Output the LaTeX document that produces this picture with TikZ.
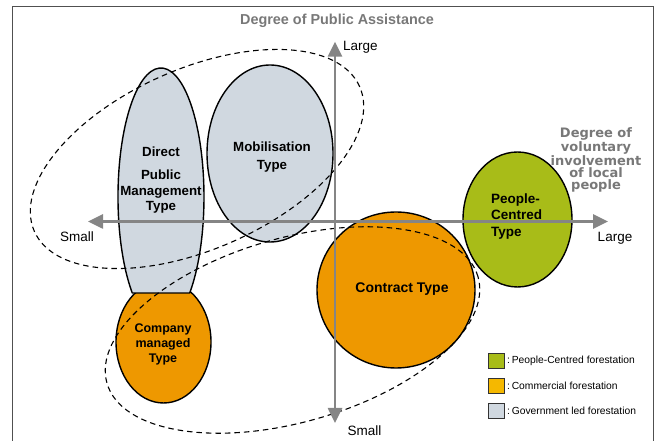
\documentclass[tikz,border=0pt]{standalone}
\usepackage{fontspec}
\setmainfont{Liberation Sans}
\newfontfamily\widefont{DejaVu Sans}
\usetikzlibrary{shapes.geometric,arrows.meta}

\definecolor{govgrey}{HTML}{D0D8E0}
\definecolor{comorange}{HTML}{EE9800}
\definecolor{legorange}{HTML}{F5B800}
\definecolor{peoplegreen}{HTML}{A8BC18}
\definecolor{axisgrey}{HTML}{858585}
\definecolor{titlegrey}{HTML}{787878}
\definecolor{framegrey}{HTML}{505050}

\begin{document}
\begin{tikzpicture}[x=1pt,y=1pt,
  outline/.style={draw=black, line width=1.4pt, line join=round},
  blob/.style={outline, ellipse, inner sep=0pt},
  group/.style={ellipse, draw=black, line width=1.1pt, dash pattern=on 5.5pt off 4pt, inner sep=0pt},
  axis/.style={draw=axisgrey, line width=2.6pt,
    {Triangle[length=15pt,width=14pt]}-{Triangle[length=15pt,width=14pt]}},
  typelabel/.style={font=\bfseries\fontsize{13.3}{15.5}\selectfont, align=center, inner sep=0pt},
  axlabel/.style={font=\fontsize{13.5}{15}\selectfont, inner sep=0pt},
  keybox/.style={draw=black!80, line width=1pt, minimum width=16pt, minimum height=15pt, inner sep=0pt},
  keytext/.style={font=\fontsize{10.3}{12}\selectfont, anchor=west, inner sep=0pt},
]
\useasboundingbox (0,0) rectangle (658,441);

% frame
\draw[framegrey, line width=1pt] (12,0) -- (12,434) -- (653,434) -- (653,0);

% forestation types
\node[blob, fill=comorange, minimum width=95pt, minimum height=122pt] (company) at (163.5,99) {};
\draw[outline, fill=govgrey] (189.7,148)
  arc[start angle=-48.1, end angle=228.1, x radius=43pt, y radius=129pt] -- cycle;
\node[blob, fill=govgrey, minimum width=126pt, minimum height=177pt] (mobil) at (270,287.5) {};
\node[blob, fill=comorange, minimum width=158pt, minimum height=156pt] (contract) at (396,151) {};
\node[blob, fill=peoplegreen, minimum width=109pt, minimum height=135pt] (people) at (517.5,221.5) {};

% groupings
\node[group, minimum width=356pt, minimum height=180pt, rotate=24] (pubgroup) at (197,282) {};
\node[group, minimum width=386pt, minimum height=184pt, rotate=16] (comgroup) at (292.5,111) {};

% axes
\coordinate (hL) at (88,219.5);
\coordinate (hR) at (608,219.5);
\coordinate (vT) at (335,399.3);
\coordinate (vB) at (335,18);
\draw[axis] (hL) -- (hR);
\draw[axis] (vB) -- (vT);

% axis labels
\node[axlabel, anchor=west] (vlarge) at (343,394) {Large};
\node[axlabel] (vsmall) at (364.5,10) {Small};
\node[axlabel] (hsmall) at (77,204) {Small};
\node[axlabel] (hlarge) at (615,203) {Large};

\node[font=\bfseries\fontsize{14.4}{16}\selectfont, text=titlegrey, inner sep=0pt] (title) at (337,420.5) {Degree of Public Assistance};
\node[font=\widefont\bfseries\fontsize{13}{12.2}\selectfont, text=titlegrey, align=center, inner sep=0pt] (voltitle) at (596,281)
  {Degree of\\voluntary\\involvement\\of local\\people};

% type labels
\node[typelabel] (directlbl) at (161,261) {Direct\\[8pt]Public\\Management\\Type};
\node[typelabel, font=\bfseries\fontsize{13.3}{17.7}\selectfont] (mobillbl) at (272,284) {Mobilisation\\Type};
\node[typelabel, font=\bfseries\fontsize{12.5}{15}\selectfont] (companylbl) at (163,97) {Company\\managed\\Type};
\node[typelabel, font=\bfseries\fontsize{14}{16}\selectfont] (contractlbl) at (402,152) {Contract Type};
\node[typelabel, font=\bfseries\fontsize{13.5}{16.5}\selectfont, align=left, anchor=west] (peoplelbl) at (491,224.5) {People-\\Centred\\Type};

% legend
\node[keybox, fill=peoplegreen] (key1) at (496.5,80) {};
\node[keybox, fill=legorange] (key2) at (496.5,55) {};
\node[keybox, fill=govgrey] (key3) at (496.5,30) {};
\node[keytext] (key1t) at ([xshift=2pt]key1.east) {:\,People-Centred forestation};
\node[keytext] (key2t) at ([xshift=2pt]key2.east) {:\,Commercial forestation};
\node[keytext] (key3t) at ([xshift=2pt]key3.east) {:\,Government led forestation};
\end{tikzpicture}
\end{document}
